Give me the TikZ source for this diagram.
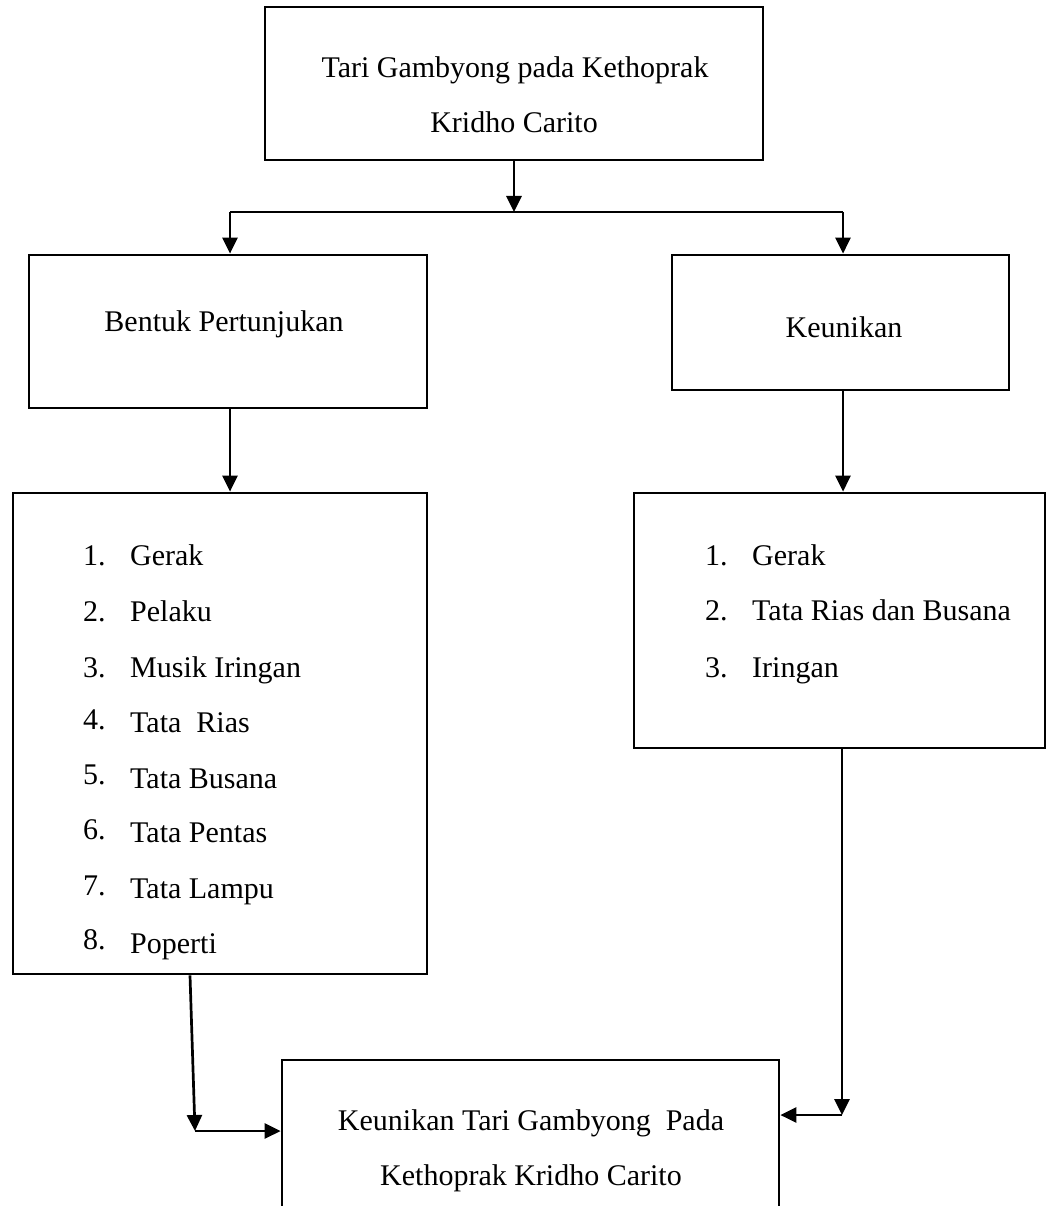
\documentclass[tikz,border=0pt]{standalone}
\usepackage{fontspec}
\setmainfont{Liberation Serif}
\usetikzlibrary{arrows.meta}
\begin{document}
\begin{tikzpicture}[x=1pt,y=-1pt,
  box/.style={draw, line width=2.7pt, inner sep=0pt},
  ln/.style={line width=2.7pt},
  arr/.style={line width=2.7pt, -{Triangle[length=16pt,width=15pt]}},
  txt/.style={inner sep=0pt, font=\fontsize{30}{36}\selectfont}]
\path[use as bounding box] (0,0) rectangle (1047,1206);
\clip (0,0) rectangle (1047,1206);
% boxes
\node[box, minimum width=498pt, minimum height=153pt] (top) at (514,83.5) {};
\node[box, minimum width=398pt, minimum height=153pt] (bentuk) at (228,331.5) {};
\node[box, minimum width=337pt, minimum height=135pt] (keun) at (840.5,322.5) {};
\node[box, minimum width=414pt, minimum height=481pt] (list1) at (220,733.5) {};
\node[box, minimum width=411pt, minimum height=255pt] (list2) at (839.5,620.5) {};
\node[box, minimum width=497pt, minimum height=160pt] (bottom) at (530.5,1140) {};
% texts
\node[txt, anchor=base] (t1) at (515,78) {Tari Gambyong pada Kethoprak};
\node[txt, anchor=base] (t2) at (514,133) {Kridho Carito};
\node[txt, anchor=base] (tb) at (224,331) {Bentuk Pertunjukan};
\node[txt, anchor=base] (tk) at (844,337) {Keunikan};
\foreach \i/\y/\r/\t in {1/565/0/Gerak, 2/621/0/Pelaku, 3/677/0/Musik Iringan, 4/732/3/Tata\ \ Rias, 5/788/4/Tata Busana, 6/842/3/Tata Pentas, 7/898/3/Tata Lampu, 8/953/4/Poperti}{
  \node[txt, anchor=base west] (ln\i) at (83,\y-\r) {\i.};
  \node[txt, anchor=base west] (lt\i) at (130,\y) {\t};
}
\foreach \i/\y/\t in {1/565/Gerak, 2/620/Tata Rias dan Busana, 3/677/Iringan}{
  \node[txt, anchor=base west] (rn\i) at (705,\y) {\i.};
  \node[txt, anchor=base west] (rt\i) at (752,\y) {\t};
}
\node[txt, anchor=base] (b1) at (531,1130) {Keunikan Tari Gambyong\ \ Pada};
\node[txt, anchor=base] (b2) at (531,1185) {Kethoprak Kridho Carito};
% connectors
\coordinate (j) at (514,212);
\coordinate (jl) at (230,212);
\coordinate (jr) at (843,212);
\draw[arr] (top.south) -- (j);
\draw[ln] (jl) -- (jr);
\draw[arr] (jl) -- (jl |- bentuk.north);
\draw[arr] (jr) -- (jr |- keun.north);
\draw[arr] (jl |- bentuk.south) -- (jl |- list1.north);
\draw[arr] (jr |- keun.south) -- (jr |- list2.north);
\coordinate (cl) at (195,1131);
\coordinate (cr) at (842,1115);
\draw[arr] ([xshift=-30pt]list1.south) -- (cl);
\draw[arr] (cl) -- (cl -| bottom.west);
\draw[arr] (cr |- list2.south) -- (cr);
\draw[arr] (cr) -- (cr -| bottom.east);
\end{tikzpicture}
\end{document}
